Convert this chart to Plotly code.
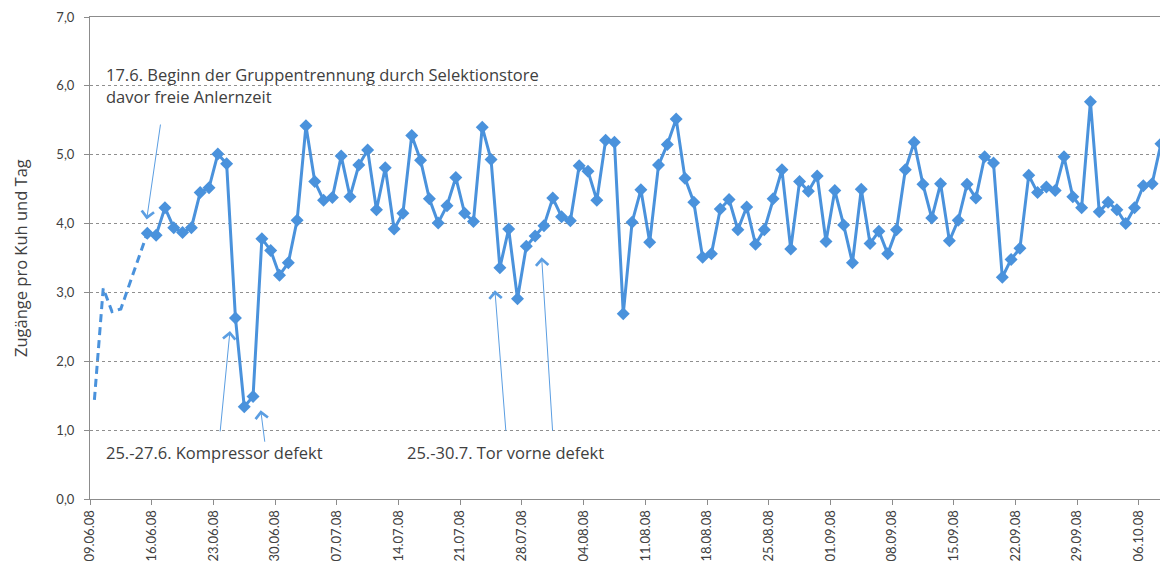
import datetime as dt
import pandas as pd
import plotly.graph_objects as go

# ---------------- data ----------------
start_date = "2008-06-09"
# Anlernzeit (dashed, free learning phase) 09.06.-15.06.; None = not recorded
phase1_dates = pd.date_range("2008-06-09", "2008-06-15", freq="D")
phase1_values = [1.44, 3.06, 2.72, 2.76, None, None, 3.86]

# Gruppentrennung durch Selektionstore 15.06.-08.10.
phase2_dates = pd.date_range("2008-06-15", "2008-10-08", freq="D")
phase2_values = [
    3.86, 3.83, 4.23, 3.94, 3.87, 3.94, 4.45, 4.52, 5.01, 4.87, 2.63, 1.34, 1.49, 3.78, 3.61, 3.25,  # June
    3.43, 4.05, 5.42, 4.61, 4.34, 4.38, 4.98, 4.39, 4.85, 5.07, 4.20, 4.81, 3.92, 4.15, 5.28, 4.92,
    4.36, 4.01, 4.26, 4.67, 4.15, 4.03, 5.40, 4.93, 3.36, 3.92, 2.91, 3.67, 3.82, 3.97, 4.37,      # July
    4.10, 4.04, 4.84, 4.76, 4.34, 5.21, 5.18, 2.69, 4.02, 4.49, 3.73, 4.85, 5.15, 5.52, 4.66, 4.31,
    3.51, 3.56, 4.21, 4.35, 3.91, 4.24, 3.70, 3.91, 4.36, 4.78, 3.63, 4.61, 4.47, 4.69, 3.74,      # August
    4.48, 3.98, 3.43, 4.50, 3.71, 3.89, 3.56, 3.91, 4.78, 5.18, 4.57, 4.08, 4.58, 3.75, 4.05, 4.57,
    4.37, 4.97, 4.88, 3.22, 3.48, 3.64, 4.70, 4.45, 4.53, 4.48, 4.97, 4.39, 4.23, 5.77,            # September
    4.17, 4.31, 4.20, 4.00, 4.23, 4.55, 4.58, 5.16,                                                  # October
]
assert len(phase2_values) == len(phase2_dates), (len(phase2_values), len(phase2_dates))

y_title = "Zugänge pro Kuh und Tag"
note_start = ["17.6. Beginn der Gruppentrennung durch Selektionstore", "davor freie Anlernzeit"]
note_compressor = "25.-27.6. Kompressor defekt"
note_gate = "25.-30.7. Tor vorne defekt"

# ---------------- styling ----------------
BLUE = "#4A92DC"
ARROW = "#5B9EE2"
AXIS = "#8C8C8C"
TXT = "#404040"
TICKFONT = "Lato"
NOTEFONT = "Open Sans"

# the page body adds an 8px margin, so the figure is sized to fit the window
W, H = 1160, 570
L, R, T, B = 82, 0, 9, 79

base = dt.datetime(2008, 6, 9)


def day(d):
    return (base + dt.timedelta(days=d)).strftime("%Y-%m-%d %H:%M:%S")


# points sit in the middle of each day (between tick marks)
x1 = [d + pd.Timedelta(hours=12) for d in phase1_dates]
x2 = [d + pd.Timedelta(hours=12) for d in phase2_dates]

fig = go.Figure()
fig.add_trace(go.Scatter(
    x=x1, y=phase1_values, mode="lines", connectgaps=True,
    line=dict(color=BLUE, width=3, dash="8px,5px"), hoverinfo="skip", showlegend=False))
fig.add_trace(go.Scatter(
    x=x2, y=phase2_values, mode="lines+markers",
    line=dict(color=BLUE, width=3),
    marker=dict(symbol="diamond", size=10, color=BLUE, line=dict(width=0)),
    showlegend=False))

note_font = dict(family=NOTEFONT, size=16.5, color=TXT)
annotations = []
annotations.append(dict(x=day(1.6), y=6.17, xref="x", yref="y", text=note_start[0], showarrow=False,
                        xanchor="left", yanchor="middle", font=note_font))
annotations.append(dict(x=day(1.6), y=5.84, xref="x", yref="y", text=note_start[1], showarrow=False,
                        xanchor="left", yanchor="middle", font=note_font))
annotations.append(dict(x=day(1.6), y=0.67, xref="x", yref="y", text=note_compressor, showarrow=False,
                        xanchor="left", yanchor="middle", font=note_font))
annotations.append(dict(x=day(35.75), y=0.67, xref="x", yref="y", text=note_gate, showarrow=False,
                        xanchor="left", yanchor="middle", font=note_font))
# y axis title
annotations.append(dict(x=-(L - 12) / (W - L - R), y=0.5, xref="paper", yref="paper", text=y_title,
                        textangle=-90, showarrow=False, xanchor="center", yanchor="middle",
                        font=dict(family=NOTEFONT, size=16.5, color=TXT)))

# arrows: (head_day, head_y, tail_day, tail_y)
arrows = [
    (6.43, 4.06, 8.02, 5.46),
    (15.88, 2.44, 14.75, 0.96),
    (19.37, 1.29, 19.85, 0.81),
    (45.94, 3.03, 47.19, 0.97),
    (51.24, 3.51, 52.49, 0.97),
]
for hx, hy, tx, ty in arrows:
    annotations.append(dict(x=day(hx), y=hy, ax=day(tx), ay=ty, xref="x", yref="y", axref="x", ayref="y",
                            text="", showarrow=True, arrowhead=4, arrowsize=2.4, arrowwidth=1,
                            arrowcolor=ARROW, standoff=0))

fig.update_layout(
    width=W, height=H,
    margin=dict(l=L, r=R, t=T, b=B, autoexpand=False),
    paper_bgcolor="white", plot_bgcolor="white",
    separators=",.",
    font=dict(family=TICKFONT, size=13, color=TXT),
    annotations=annotations,
    showlegend=False,
)
fig.update_xaxes(
    type="date", range=[day(0), day(122.3)], automargin=False,
    tick0=start_date, dtick=7 * 86400000, tickformat="%d.%m.%y", tickangle=-90,
    ticks="outside", ticklen=5, tickcolor=AXIS, tickfont=dict(family=TICKFONT, size=13, color=TXT),
    showline=True, linecolor=AXIS, linewidth=1, mirror=True, showgrid=False, zeroline=False,
)
fig.update_yaxes(
    range=[0, 7], dtick=1, tick0=0, tickformat=".1f", automargin=False,
    ticks="outside", ticklen=5, tickcolor=AXIS, tickfont=dict(family=TICKFONT, size=13, color=TXT),
    ticklabelstandoff=7,
    showline=True, linecolor=AXIS, linewidth=1, zeroline=False,
    showgrid=True, gridcolor="#8F8F8F", gridwidth=1, griddash="dot",
)

fig.write_html("out.html")
